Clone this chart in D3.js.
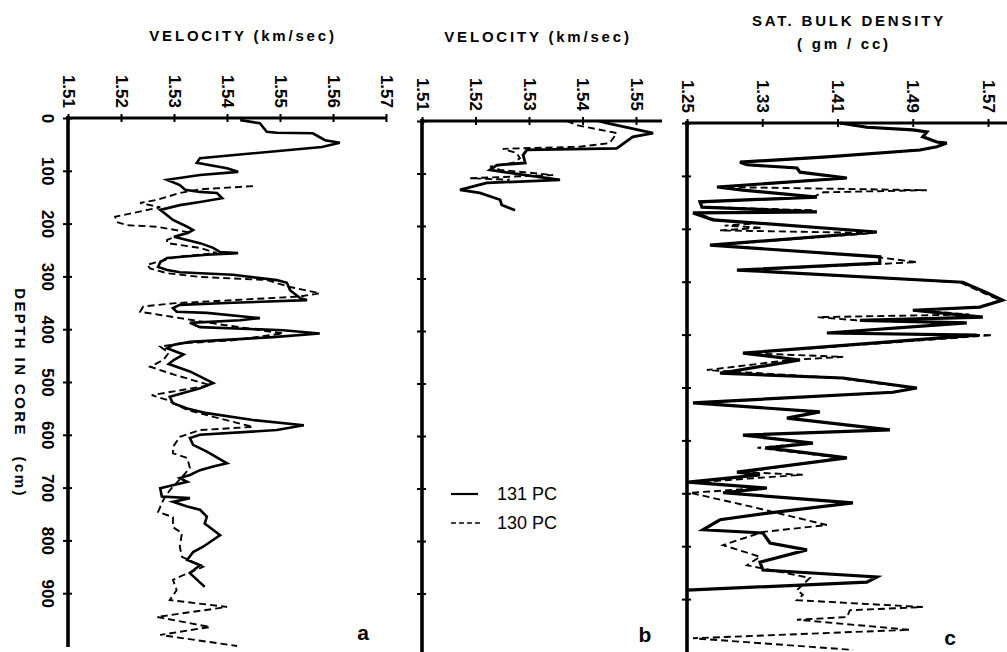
<!DOCTYPE html>
<meta charset="utf-8">
<head>
<title>Velocity and density in cores 130 PC / 131 PC</title>
<script src="https://cdn.jsdelivr.net/npm/d3@7"></script>
<style>
  body { margin: 0; background: #fff; }
  text { font-family: "Liberation Sans", Arial, sans-serif; fill: #000; }
</style>
</head>
<body>
<script>
// [depth cm, value]
const a131 = [[4,1.5425],[10,1.5462],[26,1.5475],[28,1.5494],[29,1.5562],[42,1.5585],[47,1.5613],[55,1.5579],[76,1.5349],[85,1.5343],[95,1.5400],[102,1.5421],[108,1.5349],[117,1.5287],[127,1.5311],[136,1.5321],[140,1.5349],[142,1.5381],[152,1.5391],[159,1.5349],[165,1.5311],[174,1.5274],[184,1.5287],[193,1.5298],[206,1.5325],[212,1.5336],[218,1.5326],[225,1.5300],[237,1.5349],[246,1.5374],[254,1.5387],[256,1.5421],[259,1.5362],[265,1.5287],[273,1.5274],[282,1.5270],[288,1.5287],[292,1.5311],[297,1.5411],[307,1.5494],[312,1.5513],[326,1.5519],[331,1.5525],[341,1.5538],[345,1.5551],[350,1.5411],[354,1.5311],[360,1.5298],[367,1.5305],[369,1.5362],[379,1.5462],[383,1.5425],[388,1.5330],[396,1.5349],[402,1.5506],[408,1.5575],[415,1.5487],[424,1.5330],[430,1.5298],[436,1.5287],[448,1.5318],[458,1.5300],[466,1.5290],[480,1.5330],[502,1.5374],[512,1.5349],[528,1.5292],[540,1.5298],[550,1.5325],[559,1.5362],[572,1.5449],[582,1.5545],[591,1.5494],[600,1.5349],[606,1.5330],[619,1.5336],[632,1.5362],[654,1.5400],[660,1.5374],[667,1.5349],[676,1.5330],[682,1.5311],[689,1.5325],[701,1.5274],[717,1.5277],[720,1.5330],[727,1.5298],[736,1.5325],[742,1.5349],[755,1.5362],[768,1.5358],[790,1.5387],[803,1.5368],[812,1.5355],[822,1.5336],[837,1.5325],[847,1.5349],[862,1.5330],[888,1.5358]];
const a130 = [[129,1.5449],[135,1.5349],[142,1.5311],[155,1.5268],[161,1.5236],[169,1.5274],[187,1.5189],[197,1.5192],[203,1.5211],[206,1.5268],[216,1.5325],[231,1.5287],[237,1.5287],[246,1.5349],[256,1.5381],[263,1.5305],[278,1.5249],[285,1.5255],[294,1.5287],[301,1.5349],[307,1.5475],[320,1.5519],[332,1.5575],[338,1.5538],[345,1.5411],[351,1.5298],[357,1.5242],[367,1.5236],[373,1.5274],[389,1.5374],[408,1.5506],[421,1.5411],[427,1.5311],[433,1.5274],[445,1.5290],[458,1.5280],[471,1.5255],[486,1.5300],[506,1.5368],[525,1.5258],[534,1.5287],[553,1.5325],[566,1.5374],[585,1.5449],[591,1.5349],[604,1.5311],[623,1.5298],[635,1.5298],[644,1.5325],[663,1.5330],[680,1.5315],[705,1.5292],[723,1.5280],[746,1.5270],[756,1.5298],[775,1.5298],[786,1.5315],[812,1.5311],[831,1.5315],[850,1.5355],[866,1.5317],[875,1.5298],[894,1.5305],[913,1.5292],[926,1.5400],[945,1.5268],[964,1.5368],[979,1.5274],[1000,1.5419]];
const b131 = [[0,1.5430],[4,1.5446],[23,1.5532],[30,1.5494],[52,1.5464],[55,1.5296],[65,1.5289],[80,1.5293],[84,1.5240],[93,1.5227],[97,1.5251],[112,1.5358],[118,1.5221],[131,1.5171],[137,1.5208],[150,1.5246],[160,1.5249],[170,1.5274]];
const b130 = [[0,1.5371],[8,1.5390],[23,1.5464],[42,1.5451],[49,1.5395],[53,1.5251],[61,1.5277],[71,1.5283],[80,1.5270],[87,1.5227],[93,1.5246],[103,1.5345],[109,1.5190],[112,1.5264]];
const c131 = [[0,1.4126],[8,1.4412],[13,1.4901],[17,1.5050],[26,1.5007],[36,1.5156],[38,1.5262],[45,1.5156],[51,1.4976],[64,1.3987],[74,1.3063],[79,1.3137],[85,1.3669],[93,1.3701],[104,1.4200],[121,1.2819],[127,1.3095],[140,1.3881],[149,1.2638],[159,1.2659],[168,1.3881],[170,1.2564],[183,1.2776],[206,1.4519],[231,1.2744],[253,1.4550],[265,1.4550],[278,1.3031],[301,1.5432],[321,1.5687],[335,1.5857],[348,1.5613],[354,1.4901],[367,1.5645],[373,1.4338],[378,1.5474],[397,1.3987],[401,1.5581],[435,1.3095],[448,1.3701],[473,1.2851],[482,1.4157],[501,1.4944],[509,1.4689],[529,1.2564],[546,1.3913],[558,1.3562],[580,1.4657],[590,1.3095],[605,1.3839],[614,1.3350],[633,1.4200],[660,1.3031],[665,1.3276],[679,1.2511],[690,1.3350],[699,1.2883],[718,1.4264],[737,1.3382],[750,1.2851],[769,1.2670],[775,1.3307],[794,1.3382],[807,1.3775],[830,1.3276],[845,1.3307],[858,1.4519],[868,1.4412],[883,1.2500]];
const c130 = [[0,1.4126],[8,1.4412],[13,1.4901],[17,1.5050],[26,1.5007],[36,1.5156],[38,1.5262],[45,1.5156],[51,1.4976],[64,1.3987],[74,1.3063],[79,1.3137],[85,1.3669],[93,1.3701],[104,1.4200],[121,1.2850],[127,1.5050],[131,1.3950],[140,1.3840],[149,1.2680],[159,1.2700],[165,1.3850],[170,1.2600],[183,1.2800],[190,1.3200],[194,1.2900],[198,1.3300],[203,1.2850],[208,1.4480],[231,1.2780],[253,1.4500],[263,1.4944],[266,1.4600],[278,1.3060],[301,1.5400],[321,1.5650],[335,1.5830],[348,1.5600],[354,1.4950],[362,1.5500],[367,1.3890],[373,1.4300],[378,1.5450],[397,1.4000],[401,1.5750],[435,1.3130],[442,1.4160],[448,1.3600],[467,1.2712],[482,1.4100],[501,1.4900],[509,1.4700],[529,1.2600],[546,1.3850],[558,1.3600],[580,1.4600],[590,1.3150],[605,1.3800],[614,1.3250],[633,1.4150],[660,1.3100],[665,1.3730],[679,1.2600],[690,1.3300],[699,1.2532],[726,1.3201],[760,1.3987],[773,1.3307],[798,1.2883],[820,1.3276],[836,1.3137],[860,1.3807],[883,1.3669],[892,1.3732],[902,1.3669],[915,1.5007],[921,1.4232],[934,1.4200],[939,1.3669],[958,1.4869],[974,1.2564],[996,1.4264]];

const velTicksA = [1.51, 1.52, 1.53, 1.54, 1.55, 1.56, 1.57];
const velTicksB = [1.51, 1.52, 1.53, 1.54, 1.55];
const denTicks = [1.25, 1.33, 1.41, 1.49, 1.57];
const depthTicks = [0, 100, 200, 300, 400, 500, 600, 700, 800, 900];
const seriesNames = ["131 PC", "130 PC"];

const width = 1007, height = 652;

const svg = d3.select("body").append("svg")
    .attr("width", width)
    .attr("height", height);

// one entry per panel: scale ranges measured on the reference
const panels = [
  { id: "a", xDom: [1.51, 1.57], xRng: [68, 386], xEnd: 386, yTop: 118, yBot: 646, yEnd: 647,
    ticks: velTicksA, s1: a131, s2: a130, depthLabels: true, letter: [363, 640], lw: 2.6 },
  { id: "b", xDom: [1.51, 1.55], xRng: [422, 636], xEnd: 662, yTop: 121, yBot: 646, yEnd: 652,
    ticks: velTicksB, s1: b131, s2: b130, depthLabels: false, letter: [645, 642], lw: 2.8 },
  { id: "c", xDom: [1.25, 1.57], xRng: [687, 988], xEnd: 1007, yTop: 123, yBot: 652, yEnd: 652,
    ticks: denTicks, s1: c131, s2: c130, depthLabels: false, letter: [950, 645], lw: 3.2 }
];

panels.forEach(p => {
  const x = d3.scaleLinear().domain(p.xDom).range(p.xRng);
  const y = d3.scaleLinear().domain([0, 1000]).range([p.yTop, p.yBot]);
  const g = svg.append("g");

  const line = d3.line().x(d => x(d[1])).y(d => y(d[0]));

  g.append("path").datum(p.s2)
    .attr("d", line).attr("fill", "none").attr("stroke", "#000")
    .attr("stroke-width", 1.9).attr("stroke-dasharray", "7,4");
  g.append("path").datum(p.s1)
    .attr("d", line).attr("fill", "none").attr("stroke", "#000")
    .attr("stroke-width", p.lw).attr("stroke-linejoin", "miter");

  // top axis
  const top = g.append("g")
    .attr("transform", `translate(0,${p.yTop})`)
    .call(d3.axisTop(x).tickValues(p.ticks).tickFormat(d3.format(".2f")).tickSize(4));
  top.select(".domain").remove();
  top.selectAll(".tick line").attr("y1", 4).attr("stroke-width", 2);
  top.selectAll(".tick text")
    .attr("transform", "rotate(90)")
    .attr("x", -10).attr("y", 0).attr("dy", "0.35em")
    .attr("text-anchor", "end")
    .style("font-size", "17px").style("font-weight", "bold")
    .style("font-family", "'Liberation Sans', Arial, sans-serif");
  g.append("line")
    .attr("x1", p.xRng[0] - 2).attr("x2", p.xEnd)
    .attr("y1", p.yTop).attr("y2", p.yTop)
    .attr("stroke", "#000").attr("stroke-width", 3.2);

  // depth axis
  const left = g.append("g")
    .attr("transform", `translate(${p.xRng[0]},0)`)
    .call(d3.axisLeft(y).tickValues(depthTicks).tickSize(5));
  left.select(".domain").remove();
  left.selectAll(".tick line").attr("x1", 4).attr("stroke-width", 2);
  if (p.depthLabels) {
    left.selectAll(".tick text")
      .attr("transform", "rotate(90)")
      .attr("x", 0).attr("y", 20).attr("dy", "0.35em")
      .attr("text-anchor", "middle")
      .style("font-size", "17px").style("font-weight", "bold")
      .style("font-family", "'Liberation Sans', Arial, sans-serif");
  } else {
    left.selectAll(".tick text").remove();
  }
  g.append("line")
    .attr("x1", p.xRng[0]).attr("x2", p.xRng[0])
    .attr("y1", p.yTop - 2).attr("y2", p.yEnd)
    .attr("stroke", "#000").attr("stroke-width", 3.6);

  g.append("text")
    .attr("x", p.letter[0]).attr("y", p.letter[1])
    .attr("text-anchor", "middle")
    .style("font-size", "21px").style("font-weight", "bold")
    .text(p.id);
});

// titles
function title(txt, cx, yy) {
  svg.append("text")
    .attr("x", cx).attr("y", yy)
    .attr("text-anchor", "middle")
    .style("font-size", "15px").style("font-weight", "bold")
    .style("letter-spacing", "2.8px")
    .text(txt);
}
title("VELOCITY (km/sec)", 243, 41);
title("VELOCITY (km/sec)", 538, 42);
title("SAT. BULK DENSITY", 849, 26);
title("( gm / cc)", 844, 49);

svg.append("text")
  .attr("transform", "translate(20,393) rotate(90)")
  .attr("text-anchor", "middle")
  .attr("dy", "0.35em")
  .style("font-size", "15px").style("font-weight", "bold")
  .style("letter-spacing", "2.4px")
  .attr("xml:space", "preserve")
  .text("DEPTH IN CORE   (cm)");

// legend
const legend = svg.append("g").attr("transform", "translate(451,494)");
seriesNames.forEach((name, i) => {
  legend.append("line")
    .attr("x1", 0).attr("x2", i === 0 ? 27 : 30)
    .attr("y1", i * 29).attr("y2", i * 29)
    .attr("stroke", "#000")
    .attr("stroke-width", i === 0 ? 2.2 : 1.6)
    .attr("stroke-dasharray", i === 0 ? null : "5,3");
  legend.append("text")
    .attr("x", 46).attr("y", i * 29).attr("dy", "0.36em")
    .style("font-size", "18px")
    .text(name);
});
</script>
</body>
</html>
